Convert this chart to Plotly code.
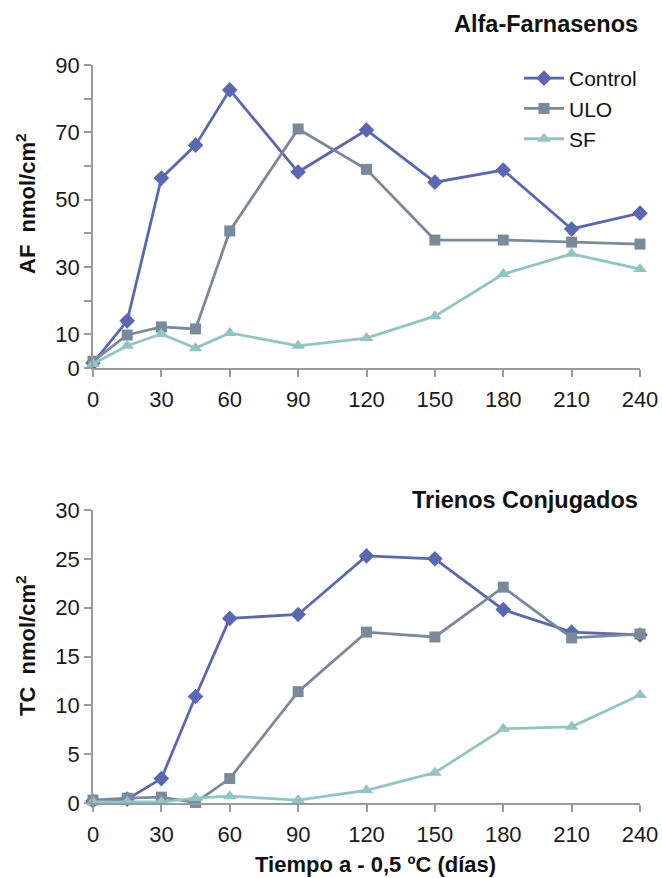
import plotly.graph_objects as go
from plotly.subplots import make_subplots

# Storage time in days
dias = [0, 15, 30, 45, 60, 90, 120, 150, 180, 210, 240]

# Alpha-farnesene (nmol/cm2)
af_control = [1.5, 14.0, 56.4, 66.2, 82.6, 58.2, 70.7, 55.2, 58.8, 41.3, 46.0]
af_ulo = [2.0, 9.8, 12.2, 11.6, 40.7, 71.0, 59.0, 38.0, 38.0, 37.4, 36.8]
af_sf = [1.2, 6.6, 10.1, 5.9, 10.4, 6.6, 8.9, 15.4, 27.9, 33.9, 29.4]

# Conjugated trienes (nmol/cm2)
tc_control = [0.2, 0.4, 2.5, 10.9, 18.9, 19.3, 25.3, 25.0, 19.8, 17.5, 17.2]
tc_ulo = [0.3, 0.5, 0.6, 0.05, 2.5, 11.4, 17.5, 17.0, 22.1, 16.9, 17.3]
tc_sf = [0.1, 0.1, 0.1, 0.5, 0.7, 0.3, 1.3, 3.1, 7.6, 7.8, 11.05]

x_ticks = [0, 30, 60, 90, 120, 150, 180, 210, 240]
af_ticks = [0, 10, 30, 50, 70, 90]
af_minor = [20, 40, 60, 80]
tc_ticks = [0, 5, 10, 15, 20, 25, 30]

series = [
    ("Control", "#5a68b4", "diamond", 12),
    ("ULO", "#788a9c", "square", 11),
    ("SF", "#90c5c5", "triangle-up", 12),
]

fig = make_subplots(rows=2, cols=1)

for (name, color, symbol, size), ys in zip(series, [af_control, af_ulo, af_sf]):
    fig.add_trace(go.Scatter(
        x=dias, y=ys, name=name, mode="lines+markers",
        line=dict(color=color, width=2.8),
        marker=dict(symbol=symbol, size=size, color=color),
        cliponaxis=False, showlegend=True), row=1, col=1)

for (name, color, symbol, size), ys in zip(series, [tc_control, tc_ulo, tc_sf]):
    fig.add_trace(go.Scatter(
        x=dias, y=ys, name=name, mode="lines+markers",
        line=dict(color=color, width=2.8),
        marker=dict(symbol=symbol, size=size, color=color),
        cliponaxis=False, showlegend=False), row=2, col=1)

H = 878.0
W_PLOT = 547.0
tick_font = dict(family="Liberation Sans, Arial, sans-serif", size=22, color="#1a1a1a")
bold_font = dict(family="Liberation Sans, Arial, sans-serif", size=22, color="#111111")
axis_common = dict(showline=True, linecolor="#9a9a9a", linewidth=1.5,
                   ticks="outside", tickcolor="#9a9a9a", ticklen=7, tickwidth=1.5,
                   showgrid=False, zeroline=False, tickfont=tick_font,
                   automargin=False)

fig.update_xaxes(range=[0, 240], tickvals=x_ticks, ticklabelstandoff=4, **axis_common)
fig.update_yaxes(**axis_common)

fig.update_layout(
    template="none",
    width=662, height=878,
    autosize=False,
    margin=dict(l=93, r=22, t=0, b=0, autoexpand=False),
    plot_bgcolor="white", paper_bgcolor="white",
    font=tick_font,
    xaxis=dict(domain=[0, 1], anchor="y"),
    yaxis=dict(domain=[1 - 368 / H, 1 - 65 / H], range=[0, 90],
               tickvals=af_ticks,
               minor=dict(tickvals=af_minor, ticks="outside", ticklen=7,
                          tickcolor="#9a9a9a", tickwidth=1.5, showgrid=False)),
    xaxis2=dict(domain=[0, 1], anchor="y2"),
    yaxis2=dict(domain=[1 - 803 / H, 1 - 510 / H], range=[0, 30],
                tickvals=tc_ticks),
    legend=dict(x=(519 - 93) / W_PLOT, xanchor="left", y=1 - 58 / H, yanchor="top",
                font=dict(family="Liberation Sans, Arial, sans-serif", size=21,
                          color="#111111"),
                bgcolor="rgba(0,0,0,0)", tracegroupgap=0, itemwidth=40),
    annotations=[
        dict(text="<b>Alfa-Farnasenos</b>", x=1.0, xref="paper", xanchor="right",
             y=1 - 24 / H, yref="paper", yanchor="middle", showarrow=False,
             font=dict(bold_font, size=23.5)),
        dict(text="<b>Trienos Conjugados</b>", x=1.0, xref="paper", xanchor="right",
             y=1 - 500 / H, yref="paper", yanchor="middle", showarrow=False,
             font=dict(bold_font, size=23.5)),
        dict(text="<b>Tiempo a - 0,5 ºC (días)</b>", x=(375 - 93) / W_PLOT, xref="paper",
             xanchor="center", y=1 - 864 / H, yref="paper", yanchor="middle",
             showarrow=False, font=bold_font),
        dict(text="<b>AF  nmol/cm<sup>2</sup></b>", textangle=-90,
             x=(26 - 93) / W_PLOT, xref="paper", xanchor="center",
             y=1 - 204 / H, yref="paper", yanchor="middle",
             showarrow=False, font=bold_font),
        dict(text="<b>TC  nmol/cm<sup>2</sup></b>", textangle=-90,
             x=(26 - 93) / W_PLOT, xref="paper", xanchor="center",
             y=1 - 646 / H, yref="paper", yanchor="middle",
             showarrow=False, font=bold_font),
    ],
)

fig.write_html("out.html")
